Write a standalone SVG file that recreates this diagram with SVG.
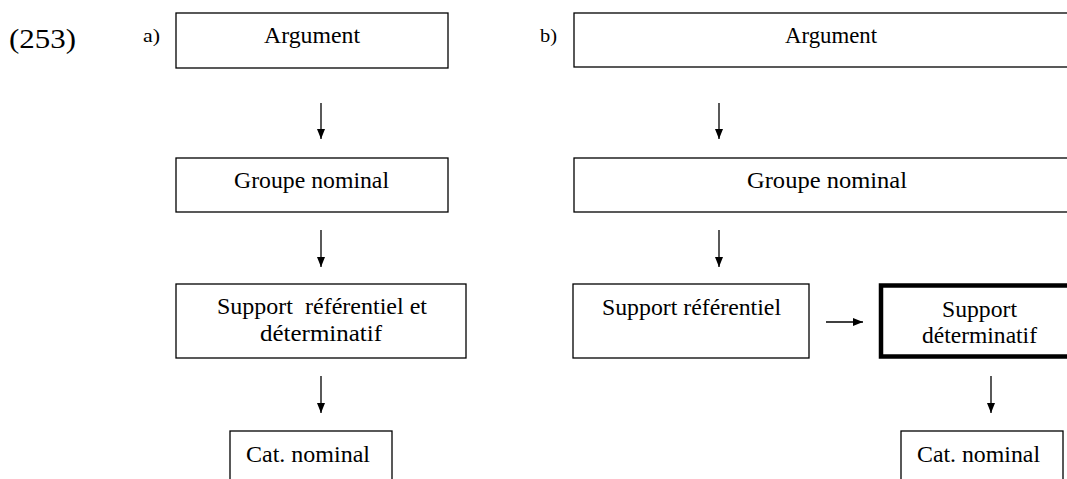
<svg xmlns="http://www.w3.org/2000/svg" width="1067" height="479" viewBox="0 0 1067 479">
<style>
  text { font-family: "Liberation Serif", "Times New Roman", Times, serif; fill: #000; }
  .t { font-size: 23px; }
  .c { text-anchor: middle; }
  .box { fill: #fff; stroke: #000; stroke-width: 1.3; }
  .thick { fill: #fff; stroke: #000; stroke-width: 4.5; }
  .conn line { stroke: #000; stroke-width: 1.3; }
</style>
<defs>
  <marker id="ah" viewBox="0 0 10 8" refX="10" refY="4" markerWidth="10" markerHeight="8" markerUnits="userSpaceOnUse" orient="auto">
    <path d="M0,0 L10,4 L0,8 Z" fill="#000"/>
  </marker>
</defs>
<rect width="1067" height="479" fill="#fff"/>

<g id="labels">
  <text x="9" y="48" font-size="28" textLength="67" lengthAdjust="spacingAndGlyphs">(253)</text>
  <text x="143" y="42" font-size="19" textLength="17" lengthAdjust="spacingAndGlyphs">a)</text>
  <text x="540" y="42" font-size="19" textLength="17" lengthAdjust="spacingAndGlyphs">b)</text>
</g>

<g class="conn" id="connectors">
  <line x1="321" y1="103" x2="321" y2="139" marker-end="url(#ah)"/>
  <line x1="321" y1="230" x2="321" y2="267" marker-end="url(#ah)"/>
  <line x1="321" y1="376" x2="321" y2="413" marker-end="url(#ah)"/>
  <line x1="719" y1="103" x2="719" y2="139" marker-end="url(#ah)"/>
  <line x1="719" y1="230" x2="719" y2="267" marker-end="url(#ah)"/>
  <line x1="826" y1="322" x2="863" y2="322" marker-end="url(#ah)"/>
  <line x1="991" y1="376" x2="991" y2="413" marker-end="url(#ah)"/>
</g>

<g id="a-argument">
  <rect class="box" x="176" y="13" width="272" height="55"/>
  <text class="t c" x="312" y="43" textLength="96" lengthAdjust="spacingAndGlyphs">Argument</text>
</g>
<g id="a-groupe">
  <rect class="box" x="176" y="158" width="272" height="54"/>
  <text class="t c" x="311.5" y="188" textLength="155" lengthAdjust="spacingAndGlyphs">Groupe nominal</text>
</g>
<g id="a-support">
  <rect class="box" x="176" y="284" width="290" height="74"/>
  <text class="t c" x="322" y="314" textLength="210" lengthAdjust="spacingAndGlyphs" xml:space="preserve">Support  référentiel et</text>
  <text class="t c" x="321" y="341" textLength="122" lengthAdjust="spacingAndGlyphs">déterminatif</text>
</g>
<g id="a-cat">
  <rect class="box" x="230" y="431" width="162" height="60"/>
  <text class="t" x="246" y="462" textLength="124" lengthAdjust="spacingAndGlyphs">Cat. nominal</text>
</g>

<g id="b-argument">
  <rect class="box" x="574" y="13" width="520" height="54"/>
  <text class="t c" x="831" y="43" textLength="92" lengthAdjust="spacingAndGlyphs">Argument</text>
</g>
<g id="b-groupe">
  <rect class="box" x="574" y="158" width="520" height="54"/>
  <text class="t c" x="827" y="188" textLength="160" lengthAdjust="spacingAndGlyphs">Groupe nominal</text>
</g>
<g id="b-support-ref">
  <rect class="box" x="573" y="284" width="236" height="74"/>
  <text class="t c" x="691.5" y="315" textLength="179" lengthAdjust="spacingAndGlyphs">Support référentiel</text>
</g>
<g id="b-support-det">
  <rect class="thick" x="881" y="285.5" width="220" height="71"/>
  <text class="t c" x="979.5" y="317" textLength="75" lengthAdjust="spacingAndGlyphs">Support</text>
  <text class="t c" x="979.5" y="343" textLength="115" lengthAdjust="spacingAndGlyphs">déterminatif</text>
</g>
<g id="b-cat">
  <rect class="box" x="901" y="431" width="162" height="60"/>
  <text class="t" x="917" y="462" textLength="123" lengthAdjust="spacingAndGlyphs">Cat. nominal</text>
</g>
</svg>
